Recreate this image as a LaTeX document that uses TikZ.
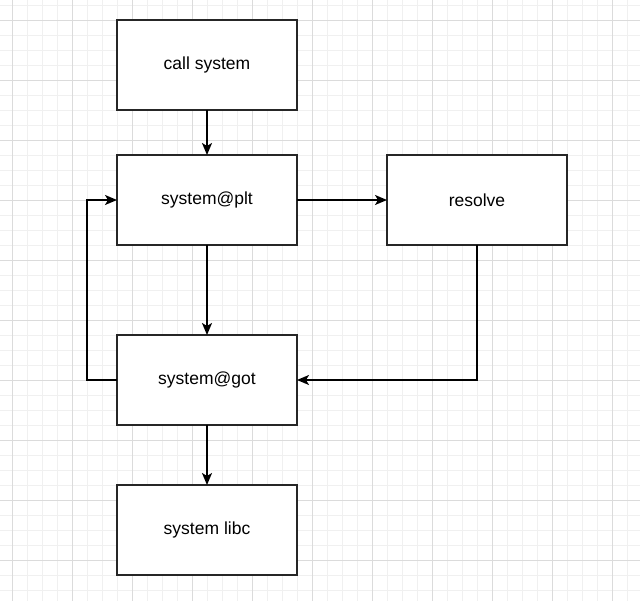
\documentclass[tikz,border=0pt]{standalone}
\usepackage{fontspec}
\setmainfont{Liberation Sans}
\usepackage{tikz}
\usetikzlibrary{arrows.meta,positioning}

\begin{document}
\begin{tikzpicture}[x=1pt,y=-1pt]
    \tikzstyle{main}=[rectangle, draw=black!85, line width=1.6pt, fill=white, minimum width=180pt, minimum height=90pt, inner sep=0pt, outer sep=0pt, font=\fontsize{17.5}{20}\selectfont]
    \tikzstyle{connect}=[-{Stealth[length=12pt,width=10pt,inset=3pt]}, line width=1.6pt]
    \tikzstyle{minor}=[black!6, line width=0.8pt]
    \tikzstyle{major}=[black!14, line width=0.8pt]
      \useasboundingbox (0,0) rectangle (640,601);
      \fill[white] (0,0) rectangle (640,601);
      % background grid
      \foreach \x in {12,27,...,627} \draw[minor] (\x,0) -- (\x,601);
      \foreach \y in {5,20,...,600} \draw[minor] (0,\y) -- (640,\y);
      \foreach \x in {12,72,...,612} \draw[major] (\x,0) -- (\x,601);
      \foreach \y in {20,80,...,560} \draw[major] (0,\y) -- (640,\y);

      \node[main] (call) at (207,65) {call system};
      \node[main] (plt) [below=45pt of call] {system@plt};
      \node[main] (got) [below=90pt of plt] {system@got};
      \node[main] (libc) [below=60pt of got] {system libc};
      \node[main] (resolve) [right=90pt of plt] {resolve};

      \coordinate (loop) at ([xshift=-30pt]got.west);

      \path (call) edge [connect] (plt);
      \path (plt) edge [connect] (got);
      \path (got) edge [connect] (libc);
      \path (plt) edge [connect] (resolve);
      \draw[connect] (resolve.south) |- (got.east);
      \draw[connect] (got.west) -- (loop) |- (plt.west);
    \end{tikzpicture}
\end{document}
